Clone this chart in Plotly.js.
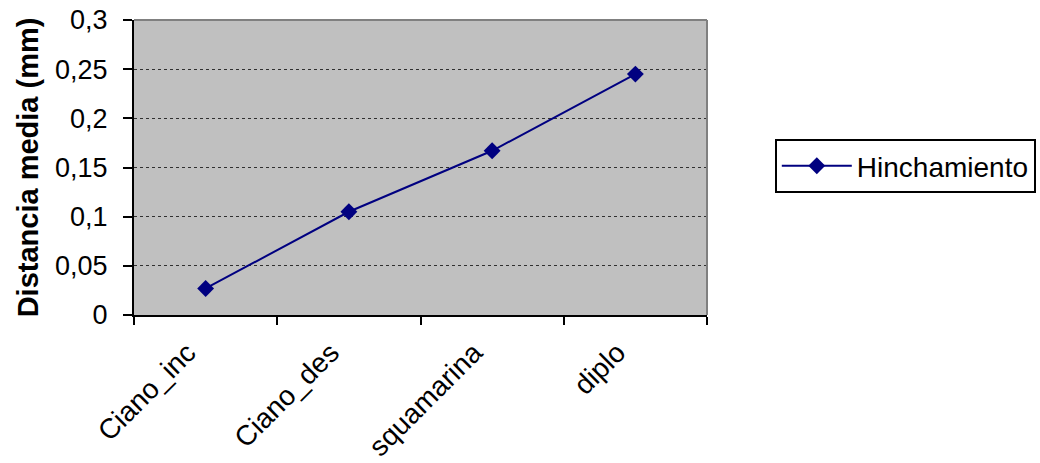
<!DOCTYPE html>
<html>
<head>
<meta charset="utf-8">
<script src="https://cdn.plot.ly/plotly-3.0.1.min.js"></script>
<style>
  html, body { margin: 0; padding: 0; background: #ffffff; }
  #chart { width: 1040px; height: 463px; }
</style>
</head>
<body>
<div id="chart"></div>
<script>
// Mean swelling distance per sample group
const categories = ["Ciano_inc", "Ciano_des", "squamarina", "diplo"];
const hinchamiento = [0.027, 0.105, 0.167, 0.245];
const seriesName = "Hinchamiento";
const yTicks = [0, 0.05, 0.1, 0.15, 0.2, 0.25, 0.3];

const font = "Liberation Sans, Arial, sans-serif";

const trace = {
  type: "scatter",
  mode: "lines+markers",
  x: categories,
  y: hinchamiento,
  name: seriesName,
  line: { color: "#000080", width: 2 },
  marker: { symbol: "diamond", size: 13, color: "#000080" },
  cliponaxis: false
};

const layout = {
  width: 1040,
  height: 463,
  margin: { l: 134, r: 333, t: 20, b: 148, autoexpand: false },
  paper_bgcolor: "#ffffff",
  plot_bgcolor: "#c0c0c0",
  separators: ",.",
  font: { family: font, size: 27, color: "#000000" },
  showlegend: true,
  legend: {
    xref: "container", yref: "container",
    x: 0.745, xanchor: "left",
    y: 0.6415, yanchor: "middle",
    bgcolor: "#ffffff",
    bordercolor: "#000000",
    borderwidth: 2,
    font: { family: font, size: 28, color: "#000000" },
    itemwidth: 70
  },
  xaxis: {
    type: "category",
    range: [-0.5, 3.5],
    tickson: "boundaries",
    ticks: "outside",
    ticklen: 8,
    tickwidth: 2,
    tickcolor: "#000000",
    tickangle: -45,
    ticklabelstandoff: 8,
    ticklabelshift: -18,
    tickfont: { family: font, size: 28, color: "#000000" },
    showline: true,
    linecolor: "#000000",
    linewidth: 2,
    showgrid: false,
    zeroline: false,
    automargin: false
  },
  yaxis: {
    range: [0, 0.3],
    tickvals: yTicks,
    ticks: "outside",
    ticklen: 9,
    tickwidth: 2,
    tickcolor: "#000000",
    ticklabelstandoff: 10,
    tickfont: { family: font, size: 27, color: "#000000" },
    showline: true,
    linecolor: "#000000",
    linewidth: 2,
    showgrid: true,
    gridcolor: "#303030",
    griddash: "dot",
    gridwidth: 1,
    zeroline: false,
    automargin: false,
    title: {
      text: "<b>Distancia media (mm)</b>",
      font: { family: font, size: 29, color: "#000000" },
      standoff: 8
    }
  },
  shapes: [
    // grey frame on the top and right sides of the plot area
    { type: "line", xref: "paper", yref: "paper", x0: 0, x1: 1, y0: 1, y1: 1,
      line: { color: "#808080", width: 2 } },
    { type: "line", xref: "paper", yref: "paper", x0: 1, x1: 1, y0: 0, y1: 1,
      line: { color: "#808080", width: 2 } }
  ]
};

Plotly.newPlot("chart", [trace], layout, { displayModeBar: false, staticPlot: true });
</script>
</body>
</html>
